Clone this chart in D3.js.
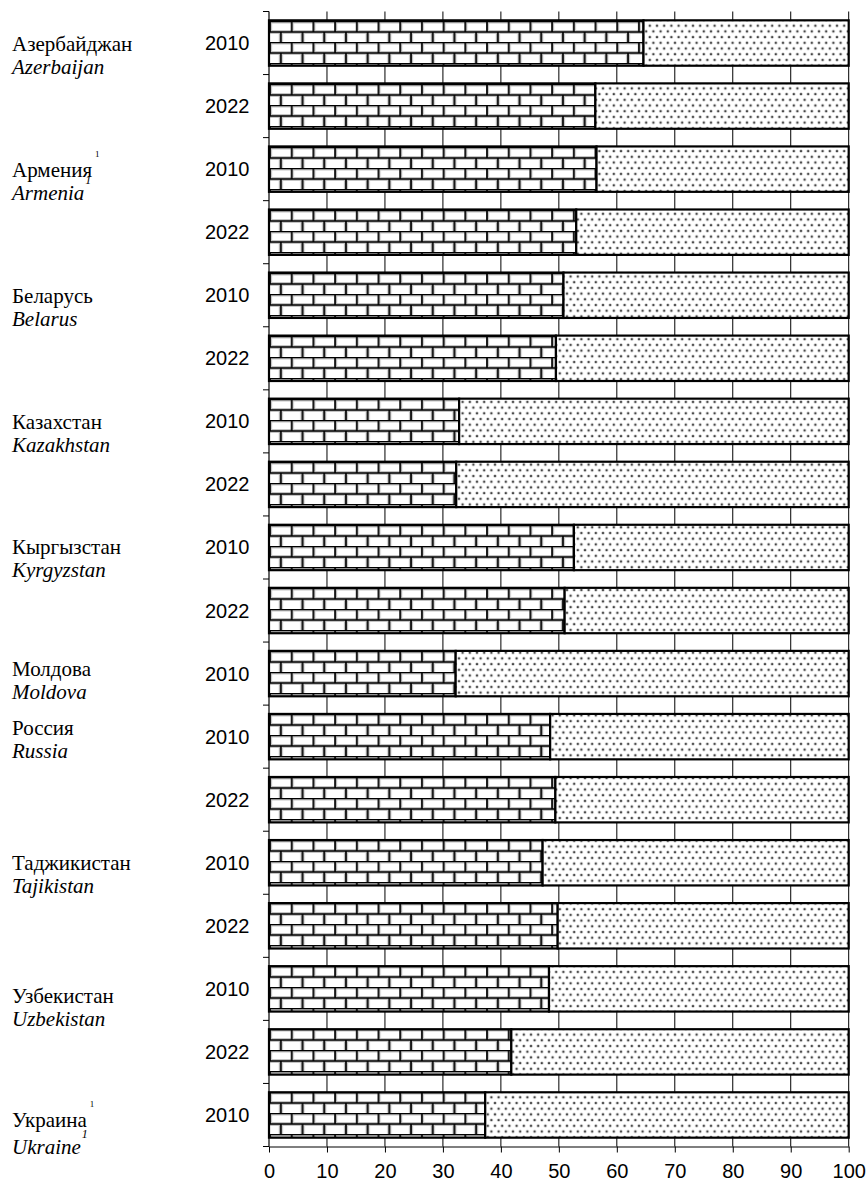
<!DOCTYPE html>
<html>
<head>
<meta charset="utf-8">
<script src="https://cdn.jsdelivr.net/npm/d3@7"></script>
<style>
  body { margin: 0; background: #fff; }
  svg { display: block; }
  .sans { font-family: "Liberation Sans", Arial, Helvetica, sans-serif; }
  .serif { font-family: "Liberation Serif", "Times New Roman", Times, "DejaVu Serif", "Noto Serif", FreeSerif, Tinos, Georgia, serif; }
</style>
</head>
<body>
<div id="chart"></div>
<script>
// countries (Russian / English), footnote mark
var countriesRu = ["Азербайджан", "Армения", "Беларусь", "Казахстан", "Кыргызстан", "Молдова", "Россия", "Таджикистан", "Узбекистан", "Украина"];
var countriesEn = ["Azerbaijan", "Armenia", "Belarus", "Kazakhstan", "Kyrgyzstan", "Moldova", "Russia", "Tajikistan", "Uzbekistan", "Ukraine"];
var footnote = [false, true, false, false, false, false, false, false, false, true];

// one row per bar
var rowCountry = [0, 0, 1, 1, 2, 2, 3, 3, 4, 4, 5, 6, 6, 7, 7, 8, 8, 9];
var rowYear = ["2010", "2022", "2010", "2022", "2010", "2022", "2010", "2022", "2010", "2022", "2010", "2010", "2022", "2010", "2022", "2010", "2022", "2010"];
// share of the brick segment, percent (the rest up to 100 is dotted)
var brickShare = [64.6, 56.3, 56.5, 53.0, 50.8, 49.5, 32.8, 32.3, 52.6, 51.0, 32.2, 48.5, 49.4, 47.2, 49.8, 48.3, 41.8, 37.3];

var xTicks = [0, 10, 20, 30, 40, 50, 60, 70, 80, 90, 100];

// small nudges of the country labels (baseline below the row centre)
var labelNudge = [7.7, 8, 8, 8, 7, 2.5, -1.5, 7, 14, 12];

var width = 867, height = 1182;
var plot = { left: 269, right: 848.7, top: 11.5, bottom: 1146.5 };

var svg = d3.select("#chart").append("svg")
	.attr("width", width)
	.attr("height", height);

var defs = svg.append("defs");

// brick pattern
var brick = defs.append("pattern")
	.attr("id", "brick")
	.attr("patternUnits", "userSpaceOnUse")
	.attr("x", plot.left)
	.attr("width", 21.7)
	.attr("height", 21);
brick.append("rect").attr("width", 21.7).attr("height", 21).attr("fill", "#fff");
var brickPath = "M0,0.5H21.7M0,11H21.7M1,0.5V11M11.85,11V21.5";
brick.append("path").attr("d", brickPath).attr("stroke", "#c4c4c4").attr("stroke-width", 4.2).attr("fill", "none");
brick.append("path").attr("d", brickPath).attr("stroke", "#000").attr("stroke-width", 1.7).attr("fill", "none");

// dotted pattern
var dots = defs.append("pattern")
	.attr("id", "dots")
	.attr("patternUnits", "userSpaceOnUse")
	.attr("width", 7.2)
	.attr("height", 11.4);
dots.append("rect").attr("width", 7.2).attr("height", 11.4).attr("fill", "#fff");
[[1.8, 2.85], [5.4, 8.55]].forEach(function (p) {
	dots.append("circle").attr("cx", p[0]).attr("cy", p[1]).attr("r", 1.5).attr("fill", "#9a9a9a");
	dots.append("circle").attr("cx", p[0]).attr("cy", p[1]).attr("r", 0.8).attr("fill", "#000");
});

var xScale = d3.scaleLinear()
	.domain([0, 100])
	.range([plot.left, plot.right]);

var yScale = d3.scaleBand()
	.domain(d3.range(rowYear.length))
	.range([plot.top, plot.bottom])
	.paddingInner(0.28)
	.paddingOuter(0.14);

var step = yScale.step();

// vertical gridlines, behind the bars
svg.append("g")
	.selectAll("line")
	.data(xTicks.slice(1))
	.enter()
	.append("line")
	.attr("x1", d => xScale(d))
	.attr("x2", d => xScale(d))
	.attr("y1", plot.top)
	.attr("y2", plot.bottom)
	.attr("stroke", "#000")
	.attr("stroke-width", 1);

// bars
var rows = svg.append("g")
	.selectAll("g")
	.data(brickShare)
	.enter()
	.append("g");

rows.append("rect")
	.attr("x", xScale(0))
	.attr("y", (d, i) => yScale(i))
	.attr("width", d => xScale(d) - xScale(0))
	.attr("height", yScale.bandwidth())
	.attr("fill", "url(#brick)")
	.attr("stroke", "#000")
	.attr("stroke-width", 2.2);

rows.append("rect")
	.attr("x", d => xScale(d))
	.attr("y", (d, i) => yScale(i))
	.attr("width", d => xScale(100) - xScale(d))
	.attr("height", yScale.bandwidth())
	.attr("fill", "url(#dots)")
	.attr("stroke", "#000")
	.attr("stroke-width", 2.2);

// left axis with ticks at the band edges
var yAxis = svg.append("g");
yAxis.append("line")
	.attr("x1", plot.left).attr("x2", plot.left)
	.attr("y1", plot.top).attr("y2", plot.bottom)
	.attr("stroke", "#000").attr("stroke-width", 1.2);
yAxis.selectAll("line.tick")
	.data(d3.range(rowYear.length + 1))
	.enter()
	.append("line")
	.attr("class", "tick")
	.attr("x1", plot.left - 6).attr("x2", plot.left)
	.attr("y1", d => plot.top + d * step)
	.attr("y2", d => plot.top + d * step)
	.attr("stroke", "#000").attr("stroke-width", 1);

// bottom axis
var xAxis = svg.append("g")
	.attr("transform", `translate(0, ${plot.bottom})`)
	.call(d3.axisBottom(xScale)
		.tickValues(xTicks)
		.tickSize(6)
		.tickPadding(11)
		.tickSizeOuter(0));
xAxis.attr("font-family", null).attr("font-size", null);
xAxis.select(".domain").attr("stroke", "#000").attr("stroke-width", 1.2);
xAxis.selectAll("line").attr("stroke", "#000");
xAxis.selectAll("text")
	.attr("class", "sans")
	.style("font-size", "20px")
	.attr("fill", "#000");

// year labels
svg.append("g")
	.selectAll("text")
	.data(rowYear)
	.enter()
	.append("text")
	.attr("class", "sans")
	.attr("x", 249.5)
	.attr("y", (d, i) => yScale(i) + yScale.bandwidth() / 2 + 7)
	.attr("text-anchor", "end")
	.style("font-size", "20px")
	.attr("fill", "#000")
	.text(d => d);

// country labels at the first row of each country
var firstRow = countriesRu.map((c, ci) => rowCountry.indexOf(ci));
var labels = svg.append("g")
	.attr("fill", "#000");

countriesRu.forEach(function (name, ci) {
	var cy = yScale(firstRow[ci]) + yScale.bandwidth() / 2 + labelNudge[ci];
	var gap = ci === 9 ? 27 : 23;
	var ru = labels.append("text").attr("class", "serif").style("font-size", "21px")
		.attr("x", 12).attr("y", cy).text(name);
	var en = labels.append("text").attr("class", "serif").style("font-size", "21px")
		.attr("x", 12).attr("y", cy + gap)
		.style("font-style", "italic").text(countriesEn[ci]);
	if (footnote[ci]) {
		ru.append("tspan").attr("dx", 3).attr("dy", -20).style("font-size", "9px").text("1");
		en.append("tspan").attr("dx", 1).attr("dy", -16).style("font-size", "12px").text("1");
	}
});
</script>
</body>
</html>
